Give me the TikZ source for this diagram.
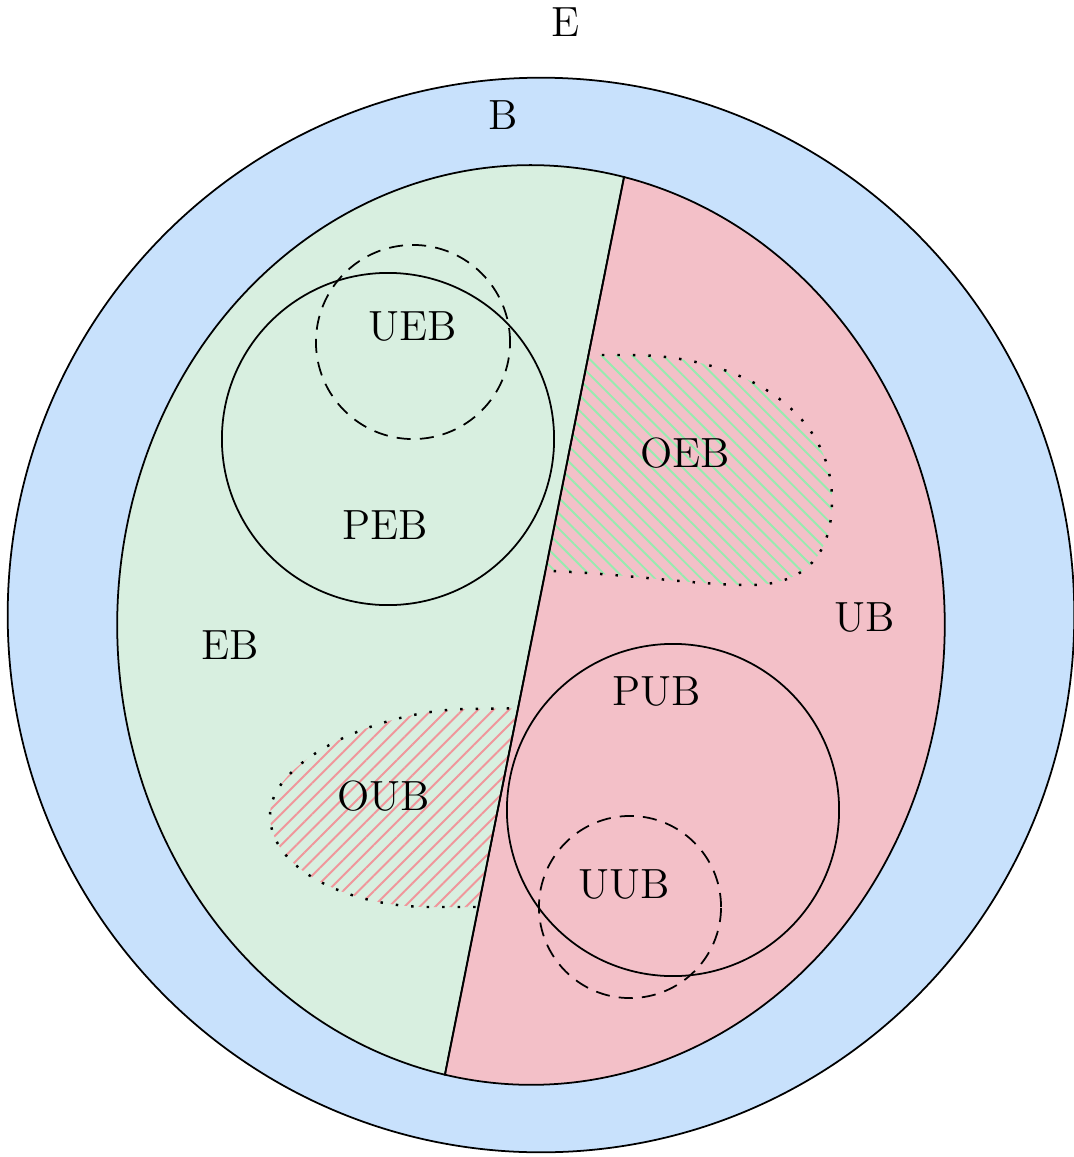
\documentclass[tikz,border=0pt]{standalone}
\usepackage{xcolor}
\usepackage{tikz}
\usetikzlibrary{patterns.meta}

\definecolor{bblue}{RGB}{200,225,252}
\definecolor{ebgreen}{RGB}{216,239,224}
\definecolor{ubpink}{RGB}{243,192,200}
\definecolor{hatchgreen}{RGB}{150,235,175}
\definecolor{hatchpink}{RGB}{240,150,155}

\begin{document}
\begin{tikzpicture}[
  x=0.01cm, y=0.01cm,
  font=\large, line width=0.5pt,
  half/.style={x radius=4.135cm, y radius=4.595cm},
  dashcirc/.style={draw, dash pattern=on 4pt off 2.6pt},
  blob/.style={line width=0.7pt, dash pattern=on 0.7pt off 3.7pt},
  hatchEB/.style={pattern={Lines[angle=-45, distance=3.1pt, line width=0.55pt]}, pattern color=hatchgreen},
  hatchUB/.style={pattern={Lines[angle=45, distance=3.1pt, line width=0.55pt]}, pattern color=hatchpink}
]
\useasboundingbox (0,0) rectangle (1074,-1157);

% B
\draw[fill=bblue] (541,-615) ellipse[x radius=5.33cm, y radius=5.37cm];

% EB and UB halves
\coordinate (top) at (624,-177);
\fill[ebgreen] (top) arc[start angle=77, end angle=258, half] -- cycle;
\fill[ubpink] (top) arc[start angle=77, end angle=-102, half] -- cycle;

% OEB, inside UB
\begin{scope}
  \clip (top) arc[start angle=77, end angle=-102, half] -- cycle;
  \path[hatchEB] (540,-355) -- (630,-355) .. controls (740,-355) and (832,-410) .. (832,-500)
    .. controls (832,-560) and (800,-585) .. (750,-585) .. controls (690,-585) and (620,-572) .. (520,-570) -- cycle;
  \draw[blob] (540,-355) -- (630,-355) .. controls (740,-355) and (832,-410) .. (832,-500)
    .. controls (832,-560) and (800,-585) .. (750,-585) .. controls (690,-585) and (620,-572) .. (520,-570);
\end{scope}

% OUB, inside EB
\begin{scope}
  \clip (top) arc[start angle=77, end angle=258, half] -- cycle;
  \path[hatchUB] (540,-708) -- (470,-709) .. controls (380,-709) and (270,-760) .. (270,-815)
    .. controls (270,-870) and (350,-907) .. (430,-907) -- (540,-907) -- cycle;
  \draw[blob] (540,-708) -- (470,-709) .. controls (380,-709) and (270,-760) .. (270,-815)
    .. controls (270,-870) and (350,-907) .. (430,-907) -- (540,-907);
\end{scope}

\draw (top) arc[start angle=77, end angle=258, half] -- cycle;
\draw (top) arc[start angle=77, end angle=-102, half] -- cycle;

% PEB, UEB, PUB, UUB
\draw (388,-439) circle[radius=1.66cm];
\draw[dashcirc] (413,-342) circle[radius=0.97cm];
\draw (673,-810) circle[radius=1.66cm];
\draw[dashcirc] (630,-907) circle[radius=0.91cm];

\node (E) at (566,-22) {E};
\node (B) at (503,-115) {B};
\node (UEB) at (413,-327) {UEB};
\node (PEB) at (385,-525) {PEB};
\node (EB) at (230,-645) {EB};
\node (OEB) at (685,-453) {OEB};
\node (UB) at (865,-618) {UB};
\node (PUB) at (657,-692) {PUB};
\node (OUB) at (384,-796) {OUB};
\node (UUB) at (624,-885) {UUB};
\end{tikzpicture}
\end{document}
